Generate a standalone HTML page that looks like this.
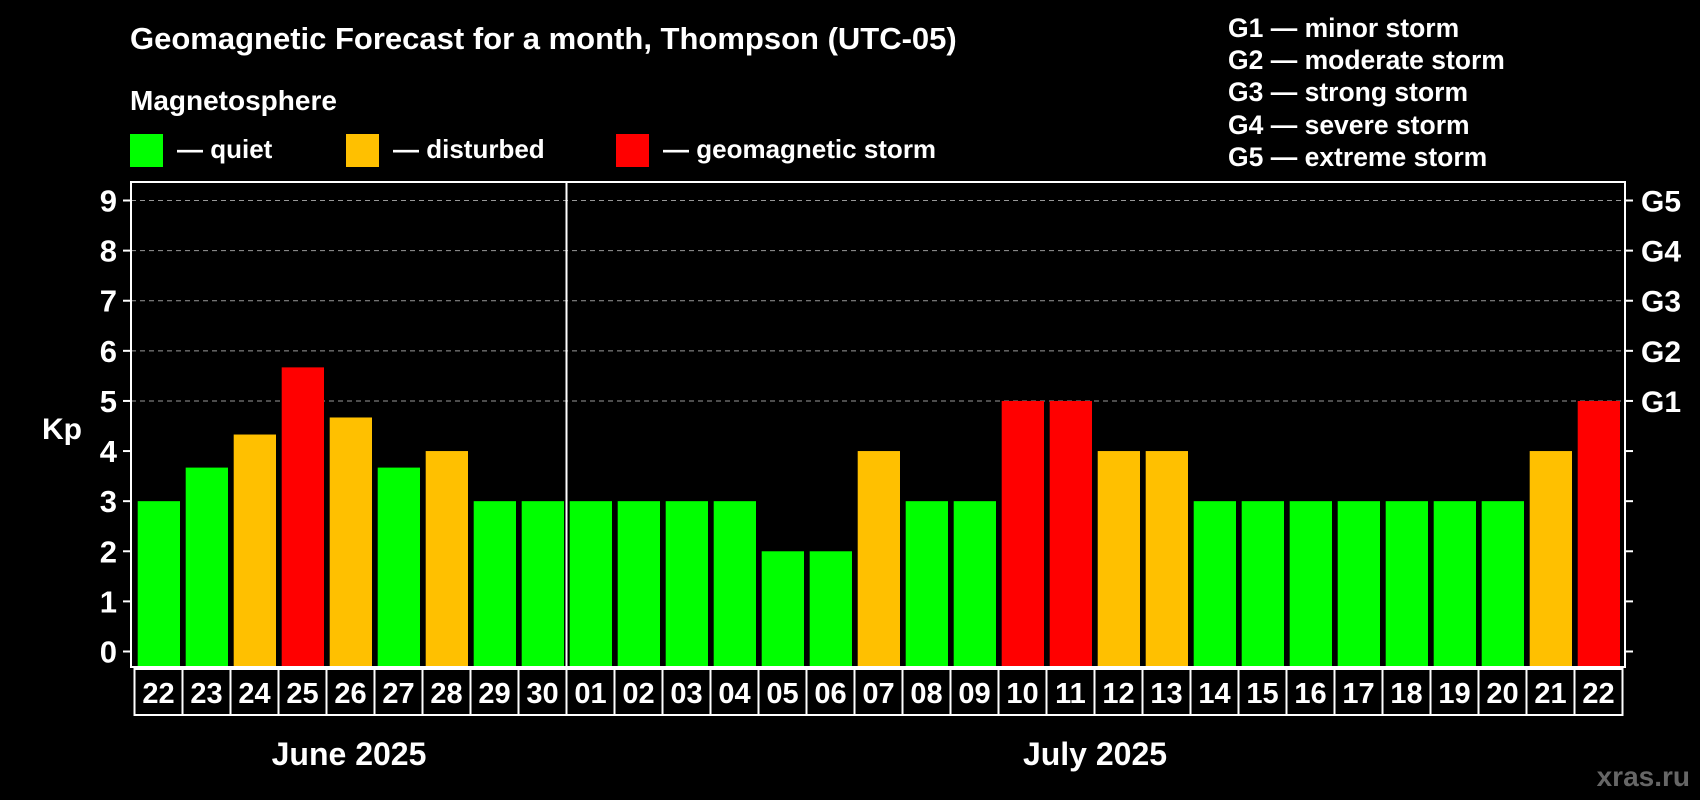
<!DOCTYPE html>
<html><head><meta charset="utf-8"><style>
html,body{margin:0;padding:0;background:#000;}
svg{display:block;font-family:"Liberation Sans",Arial,sans-serif;font-weight:bold;}
</style></head><body>
<svg id="c" width="1700" height="800" viewBox="0 0 1700 800">
<text x="130" y="49" fill="#fff" font-size="31">Geomagnetic Forecast for a month, Thompson (UTC-05)</text>
<text x="130" y="110" fill="#fff" font-size="28">Magnetosphere</text>
<g><rect x="130" y="134" width="33" height="33" fill="#00ff00"/><text x="177" y="158" fill="#fff" font-size="26">— quiet</text></g>
<g><rect x="346" y="134" width="33" height="33" fill="#ffc000"/><text x="393" y="158" fill="#fff" font-size="26">— disturbed</text></g>
<g><rect x="616" y="134" width="33" height="33" fill="#ff0000"/><text x="663" y="158" fill="#fff" font-size="26">— geomagnetic storm</text></g>
<g fill="#fff" font-size="26.5">
<text x="1228" y="37">G1 — minor storm</text>
<text x="1228" y="69">G2 — moderate storm</text>
<text x="1228" y="101">G3 — strong storm</text>
<text x="1228" y="134">G4 — severe storm</text>
<text x="1228" y="166">G5 — extreme storm</text>
</g>
<text x="42" y="439" fill="#fff" font-size="30">Kp</text>
<g id="grid"></g><g id="bars"></g><g id="axes"></g>
<text x="349" y="765" fill="#fff" font-size="32" text-anchor="middle">June 2025</text>
<text x="1095" y="765" fill="#fff" font-size="32" text-anchor="middle">July 2025</text>
<text x="1690" y="786" fill="#666" font-size="28" text-anchor="end">xras.ru</text>
</svg>
<script>
const days=["22","23","24","25","26","27","28","29","30","01","02","03","04","05","06","07","08","09","10","11","12","13","14","15","16","17","18","19","20","21","22"];
const kpValues=[3,3.67,4.33,5.67,4.67,3.67,4,3,3,3,3,3,3,2,2,4,3,3,5,5,4,4,3,3,3,3,3,3,3,4,5];
const yTicks=[0,1,2,3,4,5,6,7,8,9];
const gLabels=["G1","G2","G3","G4","G5"];
const NS="http://www.w3.org/2000/svg";
const L=131,R=1625,T=182,B=667,Y0=651.5,Y9=200.5;
const y=v=>Y0-(Y0-Y9)*v/9;
const slot=48;
const x=i=>134.5+i*slot;
function mk(p,tag,at){const e=document.createElementNS(NS,tag);for(const k in at)e.setAttribute(k,at[k]);p.appendChild(e);return e;}
const grid=document.getElementById('grid'),bars=document.getElementById('bars'),axes=document.getElementById('axes');
yTicks.forEach(v=>{
  if(v>=5){const g=mk(grid,'line',{x1:L,x2:R,y1:y(v),y2:y(v),stroke:'#999','stroke-dasharray':'5,4','stroke-width':1});
    
    }
  const t=mk(axes,'text',{x:L-14,y:y(v)+11,fill:'#fff','font-size':31,'text-anchor':'end'});t.textContent=v;
  
  
  mk(axes,'line',{x1:L-8,x2:L,y1:y(v),y2:y(v),stroke:'#fff','stroke-width':2});
  mk(axes,'line',{x1:R,x2:R+8,y1:y(v),y2:y(v),stroke:'#fff','stroke-width':2});
});
gLabels.forEach((g,i)=>{
  const t=mk(axes,'text',{x:R+16,y:y(5+i)+11,fill:'#fff','font-size':30});t.textContent=g;
  
  
});
kpValues.forEach((v,i)=>{
  const c=v>=5?'#ff0000':(v>=4?'#ffc000':'#00ff00');
  const r=mk(bars,'rect',{x:x(i)+3.2,y:y(v),width:42.3,height:B-y(v),fill:c});
  
  
  mk(axes,'rect',{x:x(i),y:669,width:slot,height:46,fill:'none',stroke:'#fff','stroke-width':2});
  const t=mk(axes,'text',{x:x(i)+slot/2,y:703,fill:'#fff','font-size':29,'text-anchor':'middle'});t.textContent=days[i];
  
  
});
mk(axes,'rect',{x:L,y:T,width:R-L,height:B-T,fill:'none',stroke:'#fff','stroke-width':2});
const d=mk(axes,'line',{x1:x(9),x2:x(9),y1:T,y2:715,stroke:'#fff','stroke-width':2});


</script>
</body></html>
